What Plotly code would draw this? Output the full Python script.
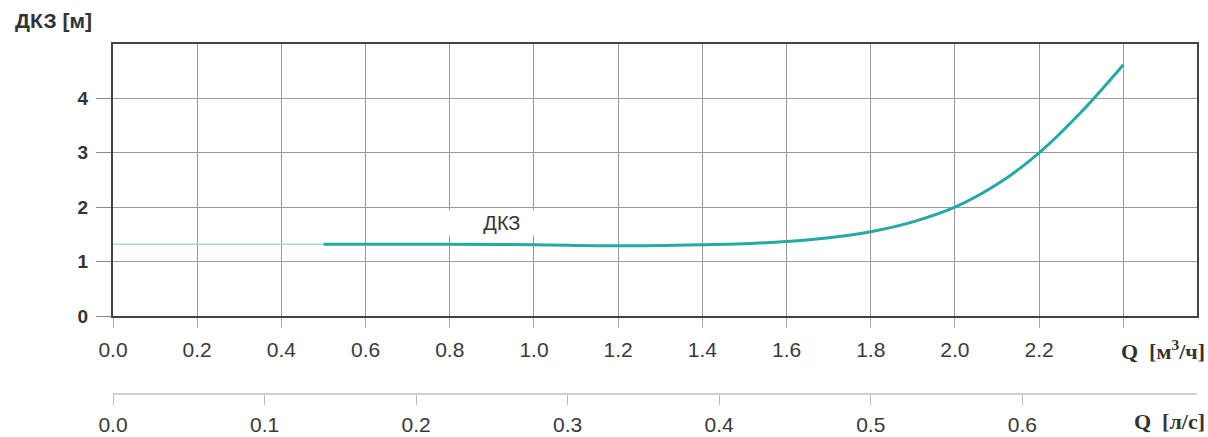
import plotly.graph_objects as go

# Pump curve: head ДКЗ [м] vs flow Q [м³/ч]
q_ext = [0.0, 0.5]
h_ext = [1.32, 1.32]
q_flow = [0.5, 0.6, 0.8, 1.0, 1.2, 1.4, 1.5, 1.6, 1.7, 1.8, 1.9, 2.0, 2.1, 2.2, 2.3, 2.4]
h_head = [1.32, 1.32, 1.32, 1.31, 1.29, 1.31, 1.33, 1.37, 1.44, 1.55, 1.73, 2.0, 2.42, 3.0, 3.75, 4.62]

x_ticks = [0.0, 0.2, 0.4, 0.6, 0.8, 1.0, 1.2, 1.4, 1.6, 1.8, 2.0, 2.2, 2.4]
x_labels = ["0.0", "0.2", "0.4", "0.6", "0.8", "1.0", "1.2", "1.4", "1.6", "1.8", "2.0", "2.2", ""]
y_ticks = [0, 1, 2, 3, 4]
ls_ticks = [0.0, 0.1, 0.2, 0.3, 0.4, 0.5, 0.6]
ls_labels = ["0.0", "0.1", "0.2", "0.3", "0.4", "0.5", "0.6"]

X_MAX = 2.575
TEAL = "#26a9a1"
FONT = "Liberation Sans, Arial, sans-serif"
SERIF = "Liberation Serif, serif"

fig = go.Figure()
fig.add_trace(go.Scatter(x=q_ext, y=h_ext, mode="lines",
                         line=dict(color="#a6dcd8", width=1.5),
                         hoverinfo="skip", showlegend=False))
fig.add_trace(go.Scatter(x=q_flow, y=h_head, mode="lines",
                         line=dict(color=TEAL, width=3, shape="spline"),
                         showlegend=False))
# invisible trace that carries the secondary (л/с) axis
fig.add_trace(go.Scatter(x=[0], y=[0], xaxis="x2", yaxis="y2", mode="markers",
                         marker=dict(opacity=0), hoverinfo="skip", showlegend=False))

fig.update_layout(
    width=1208, height=437,
    margin=dict(l=113, r=11, t=44, b=44, autoexpand=False),
    paper_bgcolor="white", plot_bgcolor="white",
    font=dict(family=FONT, size=21, color="#3a3a3a"),
    xaxis=dict(range=[0, X_MAX], tickvals=x_ticks, ticktext=x_labels,
               showgrid=True, gridcolor="#9a9a9a", gridwidth=1,
               showline=True, linecolor="#444", linewidth=2, mirror=True,
               ticks="outside", ticklen=10, tickcolor="#aaa", tickwidth=1,
               ticklabelstandoff=4, automargin=False,
               zeroline=False, anchor="y", fixedrange=True),
    yaxis=dict(range=[0, 5], tickvals=y_ticks, domain=[0.2206, 1],
               showgrid=True, gridcolor="#9a9a9a", gridwidth=1,
               showline=True, linecolor="#444", linewidth=2, mirror=True,
               ticks="outside", ticklen=15, tickcolor="#888", tickwidth=1,
               ticklabelstandoff=4, automargin=False,
               tickfont=dict(size=19, color="#333", weight="bold"),
               zeroline=False, anchor="x"),
    xaxis2=dict(range=[0, X_MAX / 3.6], tickvals=ls_ticks, ticktext=ls_labels,
                showgrid=False, showline=True, linecolor="#cfcfcf", linewidth=2,
                ticks="outside", ticklen=10, tickcolor="#bbb", tickwidth=1,
                ticklabelstandoff=2, automargin=False,
                zeroline=False, anchor="y2"),
    yaxis2=dict(domain=[0, 0.001], range=[0, 1], visible=False, anchor="x2"),
)

fig.add_annotation(text="<b>ДКЗ [м]</b>", xref="paper", yref="paper", x=-0.092, y=1.0,
                   xanchor="left", yanchor="bottom", yshift=10, showarrow=False,
                   font=dict(size=21, color="#333"))
fig.add_annotation(text="<b>Q&nbsp;&nbsp;[м<sup>3</sup>/ч]</b>", xref="paper", yref="paper",
                   x=1.0, y=0.2206, xanchor="right", yanchor="top", yshift=-18, xshift=10,
                   showarrow=False, font=dict(family=SERIF, size=22, color="#333"))
fig.add_annotation(text="<b>Q&nbsp;&nbsp;[л/с]</b>", xref="paper", yref="paper", x=1.0, y=0.0,
                   xanchor="right", yanchor="top", yshift=-14, xshift=10, showarrow=False,
                   font=dict(family=SERIF, size=22, color="#333"))
# curve name on a white tag
fig.add_annotation(text="&nbsp;" * 6 + "ДКЗ" + "&nbsp;" * 9, x=0.795, y=1.71,
                   xref="x", yref="y", xanchor="left", yanchor="middle", showarrow=False,
                   bgcolor="white", borderpad=1,
                   font=dict(size=20, color="#333"))

fig.write_html("out.html")
